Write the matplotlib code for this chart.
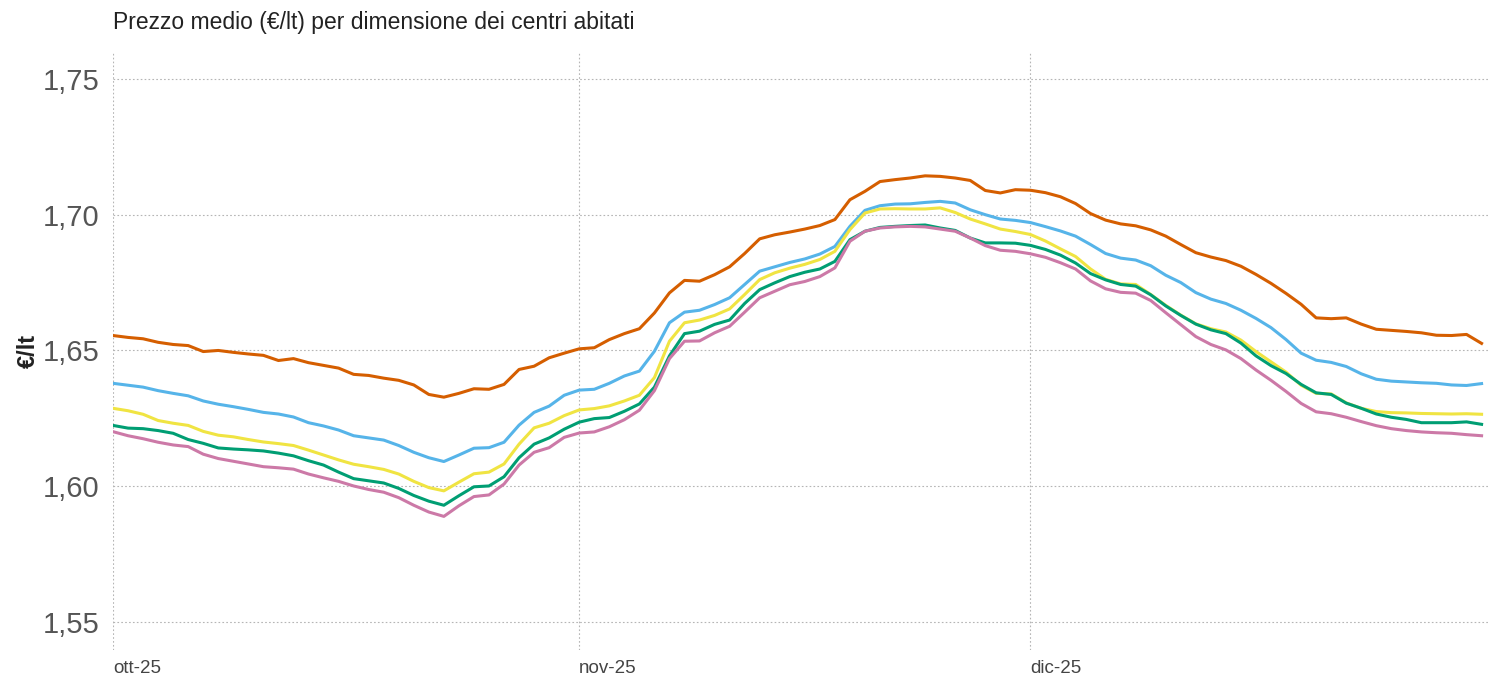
import pandas as pd
import matplotlib
matplotlib.use("Agg")
import matplotlib.pyplot as plt
import matplotlib.ticker as mticker

plt.rcParams['font.family'] = ['Liberation Sans', 'DejaVu Sans']

# daily data, 1 Oct - 31 Dec 2025
days = pd.date_range("2025-10-01", "2025-12-31", freq="D")

orange = [1.6555, 1.6548, 1.6543, 1.6530, 1.6522, 1.6518, 1.6496, 1.6500, 1.6493, 1.6487,
          1.6482, 1.6463, 1.6470, 1.6455, 1.6445, 1.6435, 1.6412, 1.6408, 1.6398, 1.6390,
          1.6373, 1.6338, 1.6328, 1.6342, 1.6359, 1.6357, 1.6375, 1.6430, 1.6442, 1.6473,
          1.6490, 1.6506, 1.6510, 1.6540, 1.6562, 1.6580, 1.6638, 1.6712, 1.6758, 1.6755,
          1.6779, 1.6808, 1.6857, 1.6911, 1.6926, 1.6936, 1.6947, 1.6960, 1.6982, 1.7055,
          1.7086, 1.7122, 1.7129, 1.7135, 1.7143, 1.7141, 1.7135, 1.7126, 1.7089, 1.7080,
          1.7092, 1.7090, 1.7081, 1.7066, 1.7041, 1.7004, 1.6980, 1.6966, 1.6959, 1.6944,
          1.6921, 1.6890, 1.6860, 1.6844, 1.6831, 1.6810, 1.6780, 1.6747, 1.6710, 1.6670,
          1.6620, 1.6617, 1.6620, 1.6597, 1.6578, 1.6574, 1.6570, 1.6565, 1.6556, 1.6555,
          1.6559, 1.6526]

blue = [1.6379, 1.6372, 1.6365, 1.6352, 1.6342, 1.6333, 1.6314, 1.6302, 1.6293, 1.6283,
        1.6272, 1.6266, 1.6255, 1.6234, 1.6222, 1.6207, 1.6186, 1.6178, 1.6170, 1.6150,
        1.6125, 1.6105, 1.6091, 1.6115, 1.6140, 1.6142, 1.6162, 1.6225, 1.6272, 1.6295,
        1.6335, 1.6354, 1.6357, 1.6379, 1.6406, 1.6424, 1.6497, 1.6602, 1.6641, 1.6648,
        1.6669, 1.6694, 1.6743, 1.6792, 1.6808, 1.6824, 1.6837, 1.6855, 1.6883, 1.6957,
        1.7016, 1.7033, 1.7039, 1.7040, 1.7045, 1.7049, 1.7043, 1.7018, 1.7000, 1.6984,
        1.6979, 1.6971, 1.6956, 1.6940, 1.6921, 1.6890, 1.6857, 1.6840, 1.6833, 1.6812,
        1.6777, 1.6750, 1.6713, 1.6689, 1.6673, 1.6648, 1.6618, 1.6584, 1.6540, 1.6490,
        1.6464, 1.6456, 1.6441, 1.6414, 1.6394, 1.6387, 1.6384, 1.6381, 1.6379, 1.6373,
        1.6371, 1.6378]

yellow = [1.6287, 1.6278, 1.6265, 1.6242, 1.6232, 1.6224, 1.6202, 1.6188, 1.6182, 1.6172,
          1.6163, 1.6157, 1.6150, 1.6133, 1.6115, 1.6097, 1.6081, 1.6072, 1.6062, 1.6045,
          1.6018, 1.5995, 1.5983, 1.6015, 1.6046, 1.6052, 1.6082, 1.6155, 1.6215, 1.6232,
          1.6260, 1.6281, 1.6286, 1.6296, 1.6314, 1.6335, 1.6400, 1.6534, 1.6602, 1.6612,
          1.6629, 1.6653, 1.6706, 1.6761, 1.6786, 1.6803, 1.6817, 1.6835, 1.6865, 1.6945,
          1.7006, 1.7021, 1.7022, 1.7021, 1.7021, 1.7025, 1.7008, 1.6984, 1.6966, 1.6947,
          1.6938, 1.6927, 1.6903, 1.6874, 1.6846, 1.6800, 1.6762, 1.6745, 1.6743, 1.6706,
          1.6666, 1.6630, 1.6598, 1.6580, 1.6568, 1.6538, 1.6496, 1.6458, 1.6420, 1.6372,
          1.6342, 1.6340, 1.6307, 1.6287, 1.6275, 1.6271, 1.6270, 1.6268, 1.6267, 1.6266,
          1.6267, 1.6265]

green = [1.6224, 1.6214, 1.6212, 1.6205, 1.6195, 1.6172, 1.6158, 1.6141, 1.6137, 1.6134,
         1.6130, 1.6122, 1.6112, 1.6094, 1.6078, 1.6052, 1.6028, 1.6020, 1.6012, 1.5992,
         1.5966, 1.5945, 1.5930, 1.5965, 1.5998, 1.6001, 1.6035, 1.6105, 1.6155, 1.6178,
         1.6210, 1.6236, 1.6249, 1.6253, 1.6276, 1.6303, 1.6365, 1.6480, 1.6562, 1.6571,
         1.6596, 1.6612, 1.6673, 1.6724, 1.6749, 1.6772, 1.6788, 1.6800, 1.6828, 1.6908,
         1.6939, 1.6953, 1.6957, 1.6960, 1.6962, 1.6951, 1.6942, 1.6914, 1.6896, 1.6896,
         1.6895, 1.6887, 1.6872, 1.6851, 1.6822, 1.6783, 1.6760, 1.6743, 1.6737, 1.6705,
         1.6664, 1.6629, 1.6597, 1.6576, 1.6562, 1.6527, 1.6480, 1.6444, 1.6415, 1.6375,
         1.6344, 1.6338, 1.6306, 1.6287, 1.6266, 1.6254, 1.6246, 1.6234, 1.6234, 1.6234,
         1.6237, 1.6228]

pink = [1.6201, 1.6186, 1.6175, 1.6162, 1.6152, 1.6146, 1.6118, 1.6102, 1.6092, 1.6082,
        1.6072, 1.6068, 1.6063, 1.6045, 1.6031, 1.6018, 1.6001, 1.5988, 1.5978, 1.5958,
        1.5930, 1.5905, 1.5889, 1.5928, 1.5962, 1.5968, 1.6008, 1.6078, 1.6125, 1.6142,
        1.6180, 1.6196, 1.6200, 1.6219, 1.6245, 1.6280, 1.6352, 1.6470, 1.6534, 1.6535,
        1.6565, 1.6589, 1.6641, 1.6694, 1.6718, 1.6742, 1.6754, 1.6772, 1.6804, 1.6902,
        1.6939, 1.6951, 1.6955, 1.6957, 1.6955, 1.6947, 1.6939, 1.6914, 1.6886, 1.6869,
        1.6865, 1.6856, 1.6843, 1.6823, 1.6800, 1.6756, 1.6727, 1.6714, 1.6711, 1.6684,
        1.6639, 1.6595, 1.6551, 1.6522, 1.6502, 1.6470, 1.6428, 1.6390, 1.6349, 1.6305,
        1.6274, 1.6267, 1.6254, 1.6238, 1.6223, 1.6212, 1.6205, 1.6200, 1.6197, 1.6195,
        1.6190, 1.6186]

series = [
    (orange, "#D55E00"),
    (blue, "#56B4E9"),
    (yellow, "#F0E442"),
    (green, "#009E73"),
    (pink, "#CC79A7"),
]

fig = plt.figure(figsize=(14.94, 6.84), dpi=100)
ax = fig.add_axes([113 / 1494, 34 / 684, 1377 / 1494, 598 / 684])

for vals, col in series:
    ax.plot(days, vals, color=col, linewidth=2.2, solid_joinstyle="round")

ax.set_ylim(1.5397, 1.7599)
ax.set_xlim(days[0], days[0] + pd.Timedelta(days=91.56))

ax.set_yticks([1.55, 1.60, 1.65, 1.70, 1.75])
ax.yaxis.set_major_formatter(mticker.FuncFormatter(lambda v, p: f"{v:.2f}".replace(".", ",")))
ax.set_xticks(pd.to_datetime(["2025-10-01", "2025-11-01", "2025-12-01"]))
ax.set_xticklabels(["ott-25", "nov-25", "dic-25"], ha="left")

ax.tick_params(axis="y", length=0, pad=10, labelsize=21, labelcolor="#555555")
ax.tick_params(axis="x", length=0, pad=7, labelsize=13.5, labelcolor="#444444")

ax.grid(True, linestyle=(0, (1.5, 2)), color="#b5b5b5", linewidth=0.8)
for s in ax.spines.values():
    s.set_visible(False)

ax.set_ylabel("€/lt", fontsize=17, fontweight="bold", color="#222222")
ax.yaxis.set_label_coords(-(113 - 40) / 1377, 0.5)
fig.text(113 / 1494, 1 - 22 / 684, "Prezzo medio (€/lt) per dimensione dei centri abitati",
         fontsize=16.5, color="#222222", va="center", ha="left")

fig.savefig("out.png", dpi=100, facecolor="white")
